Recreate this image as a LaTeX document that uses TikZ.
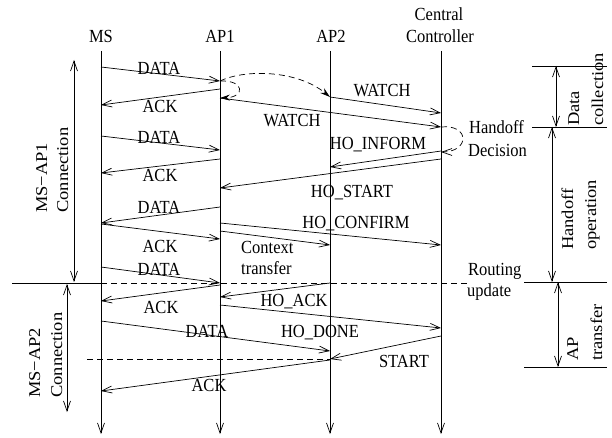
\documentclass[tikz,border=0pt]{standalone}
\usepackage{fontspec}
\setmainfont{Liberation Serif}
\usetikzlibrary{arrows.meta}
\newcommand\txtv[1]{\scalebox{1}[1.12]{#1}}
\newcommand\txth[1]{\scalebox{1.12}[1]{#1}}
\begin{document}
\begin{tikzpicture}[x=1pt,y=-1pt,
  barb/.tip={Straight Barb[length=10pt,width=7pt]},
  lbl/.style={font=\fontsize{16.5}{20}\selectfont, inner sep=0pt, anchor=base},
  lbll/.style={lbl, anchor=base west},
  rlbl/.style={lbl, anchor=base west, rotate=90},
  life/.style={line width=0.7pt, -barb},
  msgline/.style={line width=0.7pt, -barb},
  dbl/.style={line width=0.7pt, barb-barb},
  dsh/.style={line width=0.7pt, dash pattern=on 6pt off 4pt},
  sepline/.style={line width=0.7pt},
  curv/.style={line width=0.7pt, dash pattern=on 6pt off 4pt, -{Stealth[length=10pt,width=6pt]}},
]
\useasboundingbox (0,0) rectangle (612,438);

% lifelines
\coordinate (msT) at (101,51);  \coordinate (msB) at (101,434);
\coordinate (apaT) at (220,51); \coordinate (apaB) at (220,434);
\coordinate (apbT) at (330,51); \coordinate (apbB) at (330,434);
\coordinate (ccT) at (441,51);  \coordinate (ccB) at (441,434);
\draw[life] (msT) -- (msB);
\draw[life] (apaT) -- (apaB);
\draw[life] (apbT) -- (apbB);
\draw[life] (ccT) -- (ccB);

% headers
\node[lbl] (hMS) at (101,43) {\txtv{MS}};
\node[lbl] (hAP1) at (220,43) {\txtv{AP1}};
\node[lbl] (hAP2) at (331,43) {\txtv{AP2}};
\node[lbl] (hCC1) at (439,21) {\txtv{Central}};
\node[lbl] (hCC2) at (440,43) {\txtv{Controller}};

% messages
\draw[msgline] (msT |- 0,67) -- (apaT |- 0,81);
\draw[msgline] (apaT |- 0,89) -- (msT |- 0,105);
\draw[msgline] (apbT |- 0,97) -- (ccT |- 0,113);
\draw[msgline] (apaT |- 0,98) -- (ccT |- 0,127);
\draw[msgline] (msT |- 0,136) -- (apaT |- 0,150);
\draw[msgline] (ccT |- 0,151) -- (apbT |- 0,167);
\draw[msgline] (apaT |- 0,159) -- (msT |- 0,173);
\draw[msgline] (ccT |- 0,159) -- (apaT |- 0,188);
\draw[msgline] (apaT |- 0,207) -- (msT |- 0,223);
\draw[msgline] (apaT |- 0,223) -- (ccT |- 0,245);
\draw[msgline] (msT |- 0,224) -- (apaT |- 0,239);
\draw[msgline] (apaT |- 0,231) -- (apbT |- 0,245);
\draw[msgline] (msT |- 0,267) -- (apaT |- 0,283);
\draw[msgline] (apbT |- 0,283) -- (apaT |- 0,297);
\draw[msgline] (apaT |- 0,285) -- (msT |- 0,301);
\draw[msgline] (apaT |- 0,305) -- (ccT |- 0,328);
\draw[msgline] (msT |- 0,321) -- (apbT |- 0,351);
\draw[msgline] (ccT |- 0,336) -- (apbT |- 0,359);
\draw[msgline] (apbT |- 0,360) -- (msT |- 0,391);

% dashed curves
\draw[curv] (apaT |- 0,81) .. controls (245,69) and (297,70) .. (apbT |- 0,97);
\draw[curv] (apaT |- 0,81) .. controls (245,80) and (245,97) .. (apaT |- 0,98);
\draw[dsh, -barb] (ccT |- 0,127) .. controls (470,124) and (470,152) .. (ccT |- 0,152);

% separators
\coordinate (sepL) at (12,283);
\coordinate (sepR) at (468,283);
\draw[sepline] (sepL) -- (msT |- sepL);
\draw[dsh] (msT |- sepL) -- (sepR);
\coordinate (sep2L) at (87,359);
\draw[dsh] (sep2L) -- (apbT |- sep2L);

% right phase lines
\coordinate (r1a) at (532,66);  \coordinate (r1b) at (607,66);
\coordinate (r2a) at (532,127); \coordinate (r2b) at (607,127);
\coordinate (r3a) at (524,282); \coordinate (r3b) at (607,282);
\coordinate (r4a) at (524,367); \coordinate (r4b) at (607,367);
\draw[sepline] (r1a) -- (r1b);
\draw[sepline] (r2a) -- (r2b);
\draw[sepline] (r3a) -- (r3b);
\draw[sepline] (r4a) -- (r4b);
\draw[dbl] (556,66) -- (556,127);
\draw[dbl] (552,127) -- (552,282);
\draw[dbl] (558,282) -- (558,367);

% left connection arrows
\draw[dbl] (74,60) -- (74,282);
\draw[dbl] (67,284) -- (67,412);

% message labels
\node[lbl] (t1) at (159,75) {\txtv{DATA}};
\node[lbl] (t2) at (160,113) {\txtv{ACK}};
\node[lbl] (t3) at (382,97) {\txtv{WATCH}};
\node[lbl] (t4) at (292,127) {\txtv{WATCH}};
\node[lbll] (t5) at (469,134) {\txtv{Handoff}};
\node[lbll] (t6) at (468,157) {\txtv{Decision}};
\node[lbl] (t7) at (378,150) {\txtv{HO\_INFORM}};
\node[lbl] (t8) at (159,144) {\txtv{DATA}};
\node[lbl] (t9) at (160,182) {\txtv{ACK}};
\node[lbl] (t10) at (352,198) {\txtv{HO\_START}};
\node[lbl] (t11) at (159,213) {\txtv{DATA}};
\node[lbl] (t12) at (356,229) {\txtv{HO\_CONFIRM}};
\node[lbl] (t13) at (160,252) {\txtv{ACK}};
\node[lbll] (t14) at (241,253) {\txtv{Context}};
\node[lbll] (t15) at (241,274) {\txtv{transfer}};
\node[lbl] (t16) at (159,275) {\txtv{DATA}};
\node[lbll] (t17) at (468,275) {\txtv{Routing}};
\node[lbll] (t18) at (467,296) {\txtv{update}};
\node[lbl] (t19) at (161,313) {\txtv{ACK}};
\node[lbl] (t20) at (294,306) {\txtv{HO\_ACK}};
\node[lbl] (t21) at (320,337) {\txtv{HO\_DONE}};
\node[lbl] (t22) at (207,337) {\txtv{DATA}};
\node[lbl] (t23) at (404,367) {\txtv{START}};
\node[lbl] (t24) at (209,391) {\txtv{ACK}};

% rotated labels
\node[rlbl] (c1) at (47,213) {\txth{MS−AP1}};
\node[rlbl] (c2) at (68,213) {\txth{Connection}};
\node[rlbl] (c3) at (40,398) {\txth{MS−AP2}};
\node[rlbl] (c4) at (62,398) {\txth{Connection}};
\node[rlbl] (p1) at (579,126) {\txth{Data}};
\node[rlbl] (p2) at (603,126) {\txth{collection}};
\node[rlbl] (p3) at (573,250) {\txth{Handoff}};
\node[rlbl] (p4) at (596,250) {\txth{operation}};
\node[rlbl] (p5) at (578,361) {\txth{AP}};
\node[rlbl] (p6) at (602,361) {\txth{transfer}};
\end{tikzpicture}
\end{document}
